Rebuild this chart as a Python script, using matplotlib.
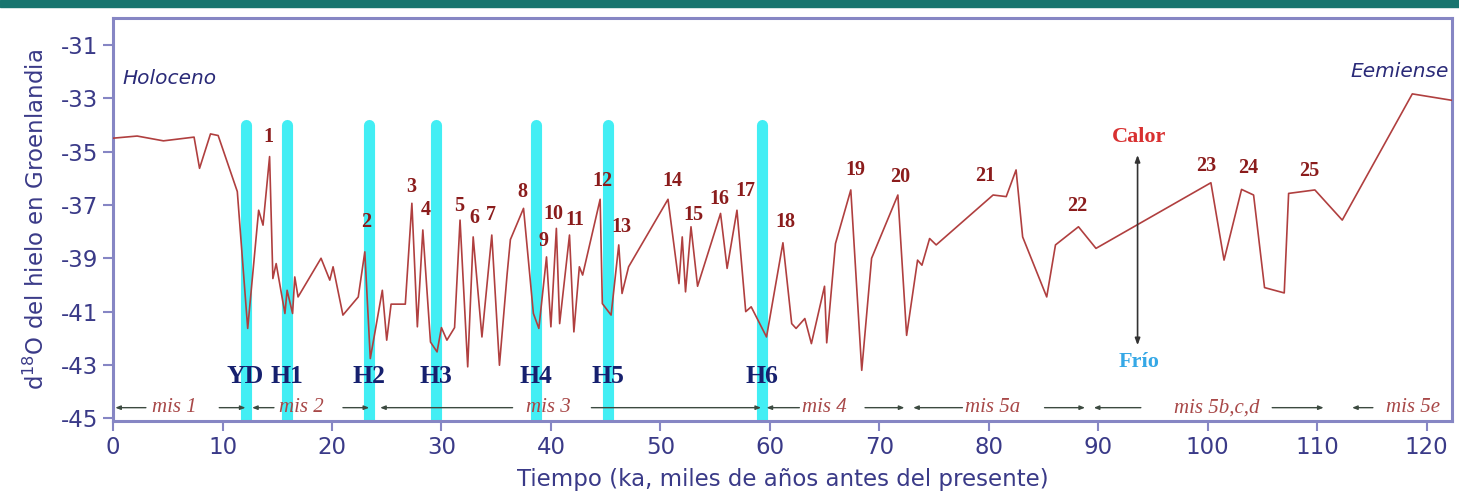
import numpy as np
import matplotlib.pyplot as plt
from matplotlib.patches import Rectangle

plt.rcParams['axes.unicode_minus'] = False

# d18O record (ka, permil)
tiempo = [0, 2.2, 4.6, 7.4, 7.9, 8.9, 9.6, 11.35, 12.3, 13.3, 13.7, 14.3, 14.6, 14.9,
          15.7, 15.9, 16.4, 16.6, 16.9, 19.0, 19.8, 20.1, 21.0, 22.4, 23.0, 23.5,
          24.6, 25.0, 25.4, 26.7, 27.3, 27.8, 28.3, 29.0, 29.6, 30.0, 30.5, 31.2,
          31.7, 32.4, 32.9, 33.7, 34.6, 35.3, 36.0, 36.3, 37.5, 38.4, 38.9, 39.6,
          40.0, 40.5, 40.8, 41.7, 42.1, 42.6, 42.9, 44.5, 44.7, 45.5, 46.2, 46.5,
          47.1, 50.7, 51.7, 52.0, 52.3, 52.8, 53.4, 55.5, 56.1, 57.0, 57.8, 58.3,
          59.7, 61.2, 62.0, 62.4, 63.2, 63.8, 65.0, 65.2, 66.0, 67.4, 68.4, 69.3,
          71.7, 72.5, 73.5, 73.9, 74.6, 75.2, 80.4, 81.6, 82.5, 83.1, 85.3, 86.1,
          88.2, 89.8, 100.3, 101.5, 103.1, 104.2, 105.2, 107.0, 107.4, 109.8,
          112.3, 118.7, 122.3]
d18o = [-34.5, -34.42, -34.6, -34.46, -35.63, -34.34, -34.4, -36.5, -41.63, -37.2,
        -37.76, -35.19, -39.76, -39.2, -41.07, -40.2, -41.07, -39.7, -40.45, -39.0,
        -39.82, -39.32, -41.13, -40.45, -38.76, -42.76, -40.2, -42.07, -40.72,
        -40.72, -36.94, -41.57, -37.94, -42.14, -42.51, -41.6, -42.07, -41.6,
        -37.57, -43.07, -38.2, -41.95, -38.13, -43.01, -39.6, -38.3, -37.13,
        -41.07, -41.63, -38.95, -41.57, -37.88, -41.45, -38.13, -41.76, -39.32,
        -39.63, -36.79, -40.7, -41.13, -38.5, -40.32, -39.32, -36.79, -39.95,
        -38.2, -40.26, -37.82, -40.05, -37.32, -39.38, -37.2, -41.0, -40.82,
        -41.95, -38.42, -41.45, -41.63, -41.26, -42.2, -40.05, -42.17, -38.45,
        -36.44, -43.2, -39.0, -36.63, -41.89, -39.07, -39.26, -38.26, -38.5,
        -36.63, -36.69, -35.69, -38.2, -40.45, -38.5, -37.82, -38.63, -36.17,
        -39.07, -36.42, -36.63, -40.1, -40.3, -36.57, -36.44, -37.57, -32.84,
        -33.08]

# Heinrich events / Younger Dryas
eventos = ['YD', 'H1', 'H2', 'H3', 'H4', 'H5', 'H6']
eventos_t = [12.1, 15.9, 23.4, 29.5, 38.6, 45.2, 59.3]

# Dansgaard-Oeschger interstadials
do_num = [str(i) for i in range(1, 26)]
do_t = [14.2, 23.1, 27.2, 28.6, 31.6, 33.0, 34.5, 37.4, 39.3, 40.2, 42.2, 44.7,
        46.4, 51.1, 53.0, 55.4, 57.8, 61.4, 67.8, 71.9, 79.7, 88.1, 99.9, 103.7,
        109.3]
do_v = [-34.45, -37.64, -36.33, -37.19, -37.04, -37.49, -37.38, -36.52, -38.36,
        -37.34, -37.57, -36.1, -37.83, -36.1, -37.38, -36.78, -36.48, -37.64,
        -35.69, -35.95, -35.92, -37.04, -35.54, -35.62, -35.73]

# marine isotope stages
mis_txt = ['mis 1', 'mis 2', 'mis 3', 'mis 4', 'mis 5a', 'mis 5b,c,d', 'mis 5e']
mis_t = [5.6, 17.2, 39.8, 65.0, 80.4, 100.8, 118.8]
mis_flechas = [(3.0, 0.2), (9.7, 12.1), (14.7, 12.7), (21.0, 23.4), (36.5, 24.4),
               (43.7, 59.2), (62.7, 59.7), (68.7, 72.3), (77.6, 73.1), (85.1, 88.8),
               (93.9, 89.6), (105.9, 110.6), (115.1, 113.2)]

azul = '#3a3a88'
spine_c = '#8686c4'

fig = plt.figure(figsize=(14.59, 5.03), dpi=100)
fig.patches.append(Rectangle((0, 1 - 7 / 503), 1, 7 / 503, transform=fig.transFigure,
                             color='#18756f', zorder=0))
ax = fig.add_axes([0.0775, 0.163, 0.9175, 0.801])

ax.vlines(eventos_t, -45.3, -34.0, colors='#42eef4', linewidth=8, capstyle='round', zorder=2)
ax.plot(tiempo, d18o, color='#b03f3f', lw=1.2, zorder=3)

for e, t in zip(eventos, eventos_t):
    ax.text(t, -43.42, e, ha='center', va='center', fontsize=18.5, fontweight='bold',
            family='Liberation Serif', color='#16206e', zorder=4)
for n, t, v in zip(do_num, do_t, do_v):
    ax.text(t, v, n, ha='center', va='center', fontsize=14.5, fontweight='bold',
            family='Liberation Serif', color='#8b1c1c', zorder=4)

for txt, t in zip(mis_txt, mis_t):
    ax.text(t, -44.6, txt, ha='center', va='center', fontsize=15, style='italic',
            family='Liberation Serif', color='#a84848', zorder=4)
for a, b in mis_flechas:
    ax.annotate('', xy=(b, -44.6), xytext=(a, -44.6),
                arrowprops=dict(arrowstyle='-|>,head_length=0.3,head_width=0.12',
                                color='#3c4a40', lw=1.0, shrinkA=0, shrinkB=0))

ax.text(0.9, -32.28, 'Holoceno', fontsize=14.5, style='italic', color='#2a2a78',
        ha='left', va='center')
ax.text(122.0, -32.0, 'Eemiense', fontsize=14.5, style='italic', color='#2a2a78',
        ha='right', va='center')

ax.annotate('', xy=(93.6, -35.13), xytext=(93.6, -42.26),
            arrowprops=dict(arrowstyle='<|-|>,head_length=0.4,head_width=0.15',
                            color='#333333', lw=1.2, shrinkA=0, shrinkB=0))
ax.text(93.7, -34.45, 'Calor', ha='center', va='center', fontsize=16, fontweight='bold',
        family='Liberation Serif', color='#d83030')
ax.text(93.7, -42.9, 'Frío', ha='center', va='center', fontsize=16, fontweight='bold',
        family='Liberation Serif', color='#35a8e6')

ax.set_xlim(0, 122.3)
ax.set_ylim(-45.1, -30)
ax.set_xticks(np.arange(0, 121, 10))
ax.set_yticks(np.arange(-31, -46, -2))
ax.tick_params(length=7, width=1.5, color=spine_c, labelsize=16.5, labelcolor=azul, pad=4)
for s in ax.spines.values():
    s.set_color(spine_c)
    s.set_linewidth(2.2)

ax.set_ylabel('d$^{18}$O del hielo en Groenlandia', fontsize=16.5, color=azul, labelpad=8)
ax.set_xlabel('Tiempo (ka, miles de años antes del presente)', fontsize=16.5, color=azul,
              labelpad=6)

fig.savefig('out.png', dpi=100)
